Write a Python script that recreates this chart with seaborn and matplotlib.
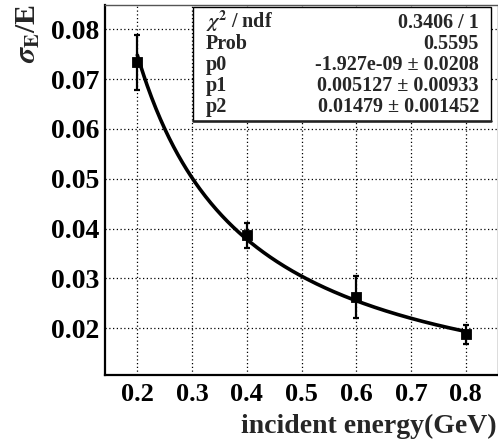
import numpy as np
import pandas as pd
import matplotlib
matplotlib.use("Agg")
import matplotlib.pyplot as plt
import seaborn as sns

# ---- data ----
energy = [0.2, 0.4, 0.6, 0.8]
resolution = [0.0734, 0.0387, 0.0262, 0.0188]
res_err = [0.0055, 0.0025, 0.0042, 0.0019]

# fit parameters (from the stat box)
p0, p1, p2 = -1.927e-09, 0.005127, 0.01479
stat_labels = [r"$\chi^{2}$ / ndf", "Prob", "p0", "p1", "p2"]
stat_values = ["0.3406 / 1", "0.5595", "-1.927e-09 \u00b1 0.0208",
               "0.005127 \u00b1 0.00933", "0.01479 \u00b1 0.001452"]

x_ticks = [0.2, 0.3, 0.4, 0.5, 0.6, 0.7, 0.8]
y_ticks = [0.02, 0.03, 0.04, 0.05, 0.06, 0.07, 0.08]

sns.set_style("white")
plt.rcParams["font.family"] = ["Liberation Serif", "DejaVu Serif"]
plt.rcParams["font.weight"] = "bold"
plt.rcParams["mathtext.fontset"] = "stix"

W, H = 498, 443
fig = plt.figure(figsize=(W / 100, H / 100), dpi=100)
left, right, top, bottom = 104.5, 497.5, 5, 375
ax = fig.add_axes([left / W, 1 - bottom / H, (right - left) / W, (bottom - top) / H])

df_pts = pd.DataFrame({"E": energy, "res": resolution})
x_fit = np.linspace(min(energy), max(energy), 300)
y_fit = np.sqrt(p0 ** 2 + p1 ** 2 / x_fit + p2 ** 2 / x_fit ** 2)
df_fit = pd.DataFrame({"E": x_fit, "res": y_fit})

ax.errorbar(energy, resolution, yerr=res_err, fmt="none", ecolor="black",
            elinewidth=1.6, capsize=2.2, capthick=1.6, zorder=3)
sns.lineplot(data=df_fit, x="E", y="res", color="black", linewidth=2.6, ax=ax, zorder=4)
sns.scatterplot(data=df_pts, x="E", y="res", marker="s", s=55, color="black",
                edgecolor="black", ax=ax, zorder=5)

ax.set_xlim(0.14, 0.858)
ax.set_ylim(0.01062, 0.08488)
ax.set_xticks(x_ticks)
ax.set_yticks(y_ticks)
ax.set_xticklabels([f"{v:.1f}" for v in x_ticks], fontsize=19, fontweight="bold")
ax.set_yticklabels([f"{v:.2f}" for v in y_ticks], fontsize=20, fontweight="bold")
ax.xaxis.set_minor_locator(matplotlib.ticker.MultipleLocator(0.02))
ax.yaxis.set_minor_locator(matplotlib.ticker.MultipleLocator(0.002))
ax.tick_params(axis="x", which="major", direction="in", length=6, width=1.2, pad=6, colors="black")
ax.tick_params(axis="x", which="minor", direction="in", length=3, width=1.0)
ax.tick_params(axis="y", which="major", direction="in", length=11, width=1.2, pad=4, colors="black")
ax.tick_params(axis="y", which="minor", direction="in", length=6, width=1.0)
ax.grid(True, which="major", linestyle=(0, (1, 2)), color="black", linewidth=0.9)

for s in ["left", "bottom"]:
    ax.spines[s].set_linewidth(1.6)
    ax.spines[s].set_color("black")
for s in ["top", "right"]:
    ax.spines[s].set_linewidth(1.0)
    ax.spines[s].set_color("#555555")

ax.set_xlabel("")
ax.set_ylabel("")
fig.text(497 / W, 1 - 433 / H, "incident energy(GeV)", ha="right", va="baseline",
         fontsize=20, fontweight="bold")
fig.text(28 / W, 1 - 4 / H, r"$\sigma_{\mathbf{E}}$/E", rotation=90, ha="center", va="top",
         fontsize=21.5, fontweight="bold")

# stat box
bx0, bx1, by0, by1 = 193, 491, 7, 121
box = matplotlib.patches.Rectangle((bx0 / W, 1 - by1 / H), (bx1 - bx0) / W, (by1 - by0) / H,
                                   transform=fig.transFigure, facecolor="white",
                                   edgecolor="black", linewidth=1.0, zorder=10)
fig.patches.append(box)
fig.add_artist(matplotlib.lines.Line2D([bx0 / W, bx1 / W], [1 - by1 / H, 1 - by1 / H],
                                       color="#222222", linewidth=1.8, zorder=11))
row_base = [28, 49, 70, 91, 112]
for lab, val, rb in zip(stat_labels, stat_values, row_base):
    fig.text(206 / W, 1 - rb / H, lab, ha="left", va="baseline", fontsize=14.5,
             fontweight="bold", zorder=12)
    fig.text(479 / W, 1 - rb / H, val, ha="right", va="baseline", fontsize=14.5,
             fontweight="bold", zorder=12)

fig.savefig("out.png", dpi=100)
